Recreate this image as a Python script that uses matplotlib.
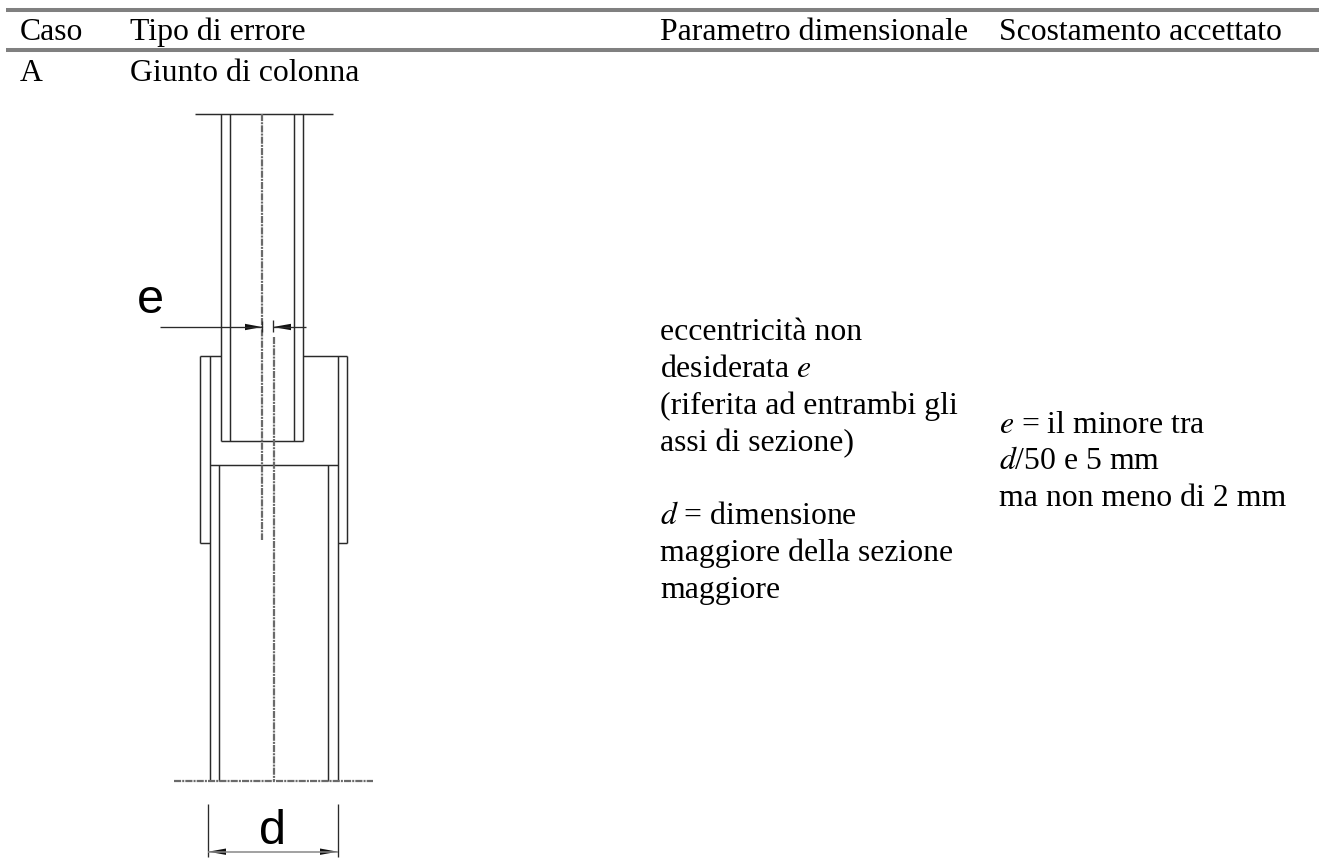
import matplotlib
matplotlib.use("Agg")
import matplotlib.pyplot as plt

W, H = 1319, 863
SERIF = "Liberation Serif"
SANS = "Liberation Sans"
INK = "#2a2a2a"

# table
rule_ys = [10, 49.7]
rule_x = [6, 1319]
header_labels = ["Caso", "Tipo di errore", "Parametro dimensionale", "Scostamento accettato"]
header_xs = [20, 130, 660, 999]
header_y = 40
row_labels = ["A", "Giunto di colonna"]
row_xs = [20, 130]
row_y = 81

col3_lines = [("eccentricità non", 340), ("desiderata $\\mathit{e}$", 377), ("(riferita ad entrambi gli", 414),
              ("assi di sezione)", 451), ("$\\mathit{d}$ = dimensione", 524), ("maggiore della sezione", 561),
              ("maggiore", 598)]
col3_x = 660
col4_lines = [("$\\mathit{e}$ = il minore tra", 433), ("$\\mathit{d}$/50 e 5 mm", 469), ("ma non meno di 2 mm", 506)]
col4_x = 999

# drawing: solid segments (x0, y0, x1, y1)
segments = [
    (195, 114.3, 333, 114.3),
    (220.7, 114.3, 220.7, 440.7), (230, 114.3, 230, 440.7),
    (293.7, 114.3, 293.7, 440.7), (303.3, 114.3, 303.3, 440.7),
    (220.7, 440.7, 303.3, 440.7),
    (200, 356.3, 220.7, 356.3), (303.3, 356.3, 347.3, 356.3),
    (200, 356.3, 200, 543), (347.3, 356.3, 347.3, 543),
    (200, 543, 209.7, 543), (338, 543, 347.3, 543),
    (209.7, 356.3, 209.7, 780.7), (338, 356.3, 338, 780.7),
    (209.7, 465, 338, 465),
    (219.3, 465, 219.3, 780.7), (328.3, 465, 328.3, 780.7),
]
# dash-dot centre lines
centre_lines = [
    (262, 114.3, 262, 540),
    (273.7, 337, 273.7, 780.7),
    (174, 780.7, 372.7, 780.7),
]
# dimension lines
dim_lines = [
    (160, 327, 262, 327), (273, 327, 306, 327),
    (262, 321, 262, 332), (273, 320, 273, 332),
    (208.3, 804, 208.3, 856.7), (337.7, 804, 337.7, 856.7),
]
dim_grey = [(208.3, 851.7, 337.7, 851.7)]
# arrowheads: tip, tail
arrows = [
    ((262, 327), (245, 327)), ((273, 327), (291, 327)),
    ((208.3, 851.7), (226, 851.7)), ((337.7, 851.7), (320, 851.7)),
]
dim_labels = [("e", 150.5, 312.5), ("d", 272.5, 844)]

fig = plt.figure(figsize=(W / 100, H / 100), dpi=100)
ax = fig.add_axes([0, 0, 1, 1])
ax.set_xlim(0, W)
ax.set_ylim(H, 0)
ax.axis("off")

for y in rule_ys:
    ax.plot(rule_x, [y, y], color="#808080", lw=2.9, solid_capstyle="butt")

FS = 22.85
def txt(x, y, s):
    ax.text(x, y, s, family=SERIF, fontsize=FS, color="black", va="baseline", ha="left",
            math_fontfamily="stix")

for s, x in zip(header_labels, header_xs):
    txt(x, header_y, s)
for s, x in zip(row_labels, row_xs):
    txt(x, row_y, s)
for s, y in col3_lines:
    txt(col3_x, y, s)
for s, y in col4_lines:
    txt(col4_x, y, s)

for x0, y0, x1, y1 in segments:
    ax.plot([x0, x1], [y0, y1], color=INK, lw=1.05, solid_capstyle="butt")
for x0, y0, x1, y1 in centre_lines:
    ax.plot([x0, x1], [y0, y1], color="#6a6a6a", lw=1.6, dashes=(3.2, 0.5, 0.9, 0.5))
for x0, y0, x1, y1 in dim_lines:
    ax.plot([x0, x1], [y0, y1], color=INK, lw=0.95, solid_capstyle="butt")
for x0, y0, x1, y1 in dim_grey:
    ax.plot([x0, x1], [y0, y1], color="#888888", lw=1.1, solid_capstyle="butt")
for tip, tail in arrows:
    d = 3.2
    xs = [tip[0], tail[0], tail[0]]
    ys = [tip[1], tail[1] - d, tail[1] + d]
    ax.fill(xs, ys, color="#111111", lw=0)
for s, x, y in dim_labels:
    ax.text(x, y, s, family=SANS, fontsize=35, color="black", ha="center", va="baseline")

fig.savefig("out.png", dpi=100)
